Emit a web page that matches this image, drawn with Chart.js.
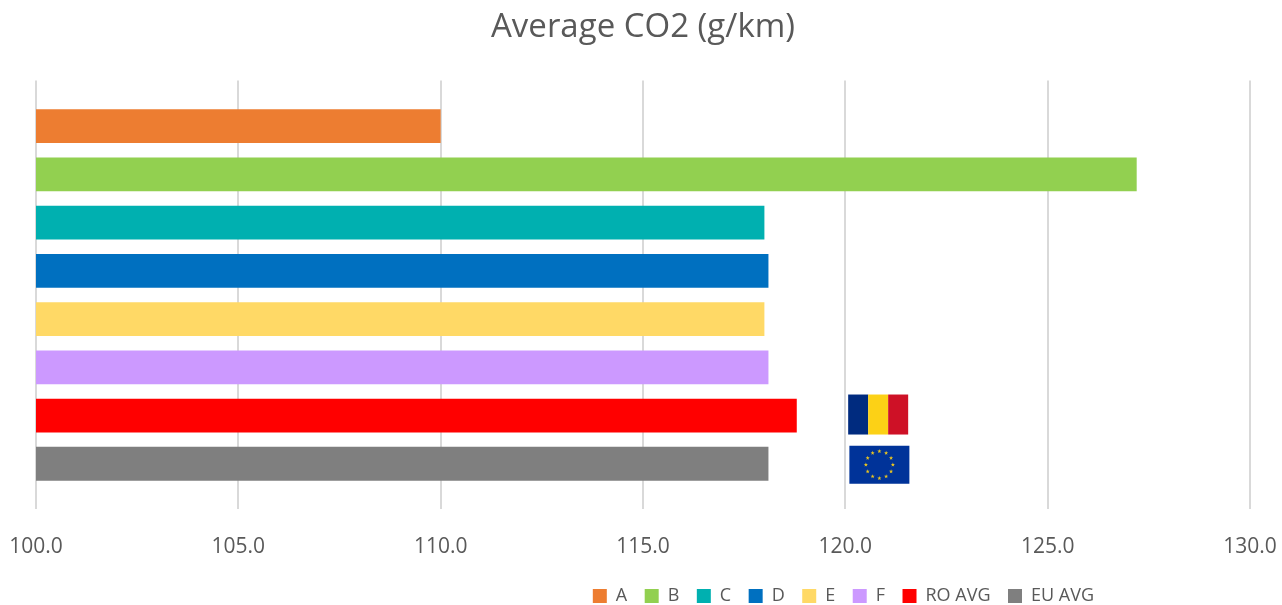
<!DOCTYPE html>
<html>
<head>
<meta charset="utf-8">
<title>Average CO2 (g/km)</title>
<script src="https://cdn.jsdelivr.net/npm/chart.js@4"></script>
<style>
    html, body { margin: 0; padding: 0; background: #fff; }
    #box { position: relative; width: 1282px; height: 605px; }
</style>
</head>
<body>
<div id="box"><canvas id="co2Chart"></canvas></div>
<script>
const seriesNames = ['A', 'B', 'C', 'D', 'E', 'F', 'RO AVG', 'EU AVG'];
const seriesValues = [110.0, 127.2, 118.0, 118.1, 118.0, 118.1, 118.8, 118.1];
const seriesColors = ['#ED7D31', '#92D050', '#00B0B0', '#0070C0', '#FFD966', '#CC99FF', '#FF0000', '#7F7F7F'];
const categories = [''];
const xTicks = [100, 105, 110, 115, 120, 125, 130];

const textColor = '#595959';
const fontName = '"Open Sans", sans-serif';

// Legend sits right of centre and lower in the original, so move it after layout
const legendShift = {
    id: 'legendShift',
    afterLayout(chart) {
        chart.legend.right = 1094 + 17.5;
        chart.legend.top += 10;
    }
};

function drawStar(ctx, cx, cy, r) {
    ctx.beginPath();
    for (let i = 0; i < 10; i++) {
        const rad = i % 2 ? r * 0.4 : r;
        const a = -Math.PI / 2 + i * Math.PI / 5;
        ctx.lineTo(cx + rad * Math.cos(a), cy + rad * Math.sin(a));
    }
    ctx.closePath();
    ctx.fill();
}

// Flags next to the two average bars
const flags = {
    id: 'flags',
    afterDatasetsDraw(chart) {
        const ctx = chart.ctx;
        const x = chart.scales.x;
        const roBar = chart.getDatasetMeta(6).data[0];
        const euBar = chart.getDatasetMeta(7).data[0];

        const roLeft = x.getPixelForValue(120.07);
        const roTop = roBar.y - 21;
        ctx.save();
        ctx.fillStyle = '#002B7F';
        ctx.fillRect(roLeft, roTop, 20, 40);
        ctx.fillStyle = '#FCD116';
        ctx.fillRect(roLeft + 20, roTop, 20, 40);
        ctx.fillStyle = '#CE1126';
        ctx.fillRect(roLeft + 40, roTop, 20, 40);

        const euLeft = x.getPixelForValue(120.1);
        const euTop = euBar.y - 18;
        ctx.fillStyle = '#003399';
        ctx.fillRect(euLeft, euTop, 60, 38);
        ctx.fillStyle = '#E8C420';
        for (let i = 0; i < 12; i++) {
            const a = i * Math.PI / 6;
            drawStar(ctx, euLeft + 30 + 13.5 * Math.cos(a), euTop + 19 + 13.5 * Math.sin(a), 2.2);
        }
        ctx.restore();
    }
};

const datasets = seriesNames.map(function (name, i) {
    return {
        label: name,
        data: [seriesValues[i]],
        backgroundColor: seriesColors[i],
        categoryPercentage: 0.9,
        barPercentage: 0.7
    };
});

new Chart(document.getElementById('co2Chart'), {
    type: 'bar',
    data: { labels: categories, datasets: datasets },
    plugins: [legendShift, flags],
    options: {
        indexAxis: 'y',
        responsive: true,
        maintainAspectRatio: false,
        animation: false,
        layout: { padding: { left: 36, right: 32, top: 0, bottom: 0 } },
        plugins: {
            title: {
                display: true,
                text: 'Average CO2 (g/km)',
                color: textColor,
                font: { family: fontName, size: 33, weight: 'normal' },
                padding: { top: 8, bottom: 33 }
            },
            legend: {
                position: 'bottom',
                align: 'end',
                labels: {
                    color: textColor,
                    font: { family: fontName, size: 18 },
                    boxWidth: 14,
                    boxHeight: 14,
                    padding: 17.5
                }
            },
            tooltip: { enabled: false }
        },
        scales: {
            x: {
                min: 100,
                max: 130,
                afterBuildTicks: function (axis) {
                    axis.ticks = xTicks.map(function (v) { return { value: v }; });
                },
                afterFit: function (axis) {
                    axis.height -= 25;
                    axis.paddingLeft = 0;
                    axis.paddingRight = 0;
                },
                grid: { color: '#D9D9D9', lineWidth: 2, drawTicks: false },
                border: { display: false },
                ticks: {
                    color: textColor,
                    font: { family: fontName, size: 21 },
                    padding: 25,
                    maxRotation: 0,
                    callback: function (value) {
                        return value.toFixed(1);
                    }
                }
            },
            y: {
                display: false
            }
        }
    }
});
</script>
</body>
</html>
